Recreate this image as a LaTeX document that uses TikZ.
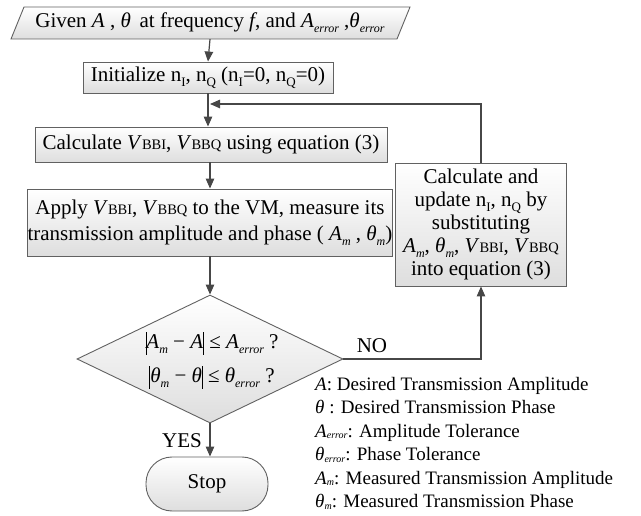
\documentclass[tikz,border=0pt]{standalone}
\usepackage{fontspec}
\setmainfont{Liberation Serif}
\usetikzlibrary{shapes.geometric,arrows.meta}

% small upright letters after an italic V (V_BBI, V_BBQ)
\newcommand{\vbb}[1]{\textit{V}{\fontsize{14.5}{14.5}\selectfont #1}}
% lowered upright subscript (n_I, n_Q)
\newcommand{\lowsub}[1]{\raisebox{-0.22em}{\fontsize{13}{13}\selectfont #1}}
% lowered italic subscript (A_m, A_error)
\newcommand{\itsub}[1]{\raisebox{-0.25em}{\fontsize{12}{12}\selectfont\itshape #1}}
% tiny italic subscript kept near the baseline (legend)
\newcommand{\legsub}[1]{\raisebox{-0.1em}{\fontsize{10}{10}\selectfont\itshape #1}}
% tall bar for absolute values
\newcommand{\absbar}{\vrule height 17pt depth 6pt width 0.9pt}

\tikzset{
  shadefill/.style={top color=white, bottom color=black!13, draw=black!62, line width=0.9pt},
  procbox/.style={shadefill, rectangle, inner sep=0pt, align=center,
                  font=\fontsize{21}{26}\selectfont},
  flow/.style={draw=black!72, line width=1.2pt, -{Triangle[length=10pt,width=8.5pt]}},
  lbl/.style={inner sep=0pt, font=\fontsize{21}{21}\selectfont},
  legline/.style={anchor=base west, inner sep=0pt, font=\fontsize{19}{19}\selectfont},
}

\begin{document}
\begin{tikzpicture}[x=1pt, y=-1pt]
  \useasboundingbox (0,0) rectangle (641,516);

  % input parallelogram
  \path[shadefill] (24,7) -- (410,7) -- (397,39) -- (11,39) -- cycle;
  \node[inner sep=0pt, minimum width=386, minimum height=32, font=\fontsize{21}{21}\selectfont]
    (given) at (210,23)
    {Given \textit{A} , \textit{θ}\, at frequency \textit{f}, and \textit{A}\itsub{error} ,\textit{θ}\itsub{error}};

  % process boxes
  \node[procbox, minimum width=250, minimum height=31] (init) at (208,77.5)
    {Initialize n\lowsub{I}, n\lowsub{Q} (n\lowsub{I}=0, n\lowsub{Q}=0)};
  \node[procbox, minimum width=352, minimum height=35] (calc) at (211,144.5)
    {Calculate \vbb{BBI}, \vbb{BBQ} using equation (3)};
  \node[procbox, minimum width=356, minimum height=67] (apply) at (210,222.5)
    {Apply \vbb{BBI}, \vbb{BBQ} to the VM, measure its\\
     transmission amplitude and phase ( \textit{A}\itsub{m} , \textit{θ}\itsub{m})};
  \node[procbox, minimum width=171, minimum height=123, font=\fontsize{21}{22.8}\selectfont]
    (upd) at (481,224.5)
    {Calculate and\\ update n\lowsub{I}, n\lowsub{Q} by\\ substituting\\
     \textit{A}\itsub{m}, \textit{θ}\itsub{m}, \vbb{BBI}, \vbb{BBQ}\\ into equation (3)};

  % decision
  \node[shadefill, diamond, inner sep=0pt, minimum width=266, minimum height=128] (dia) at (210,359) {};
  \node[align=center, inner sep=0pt, font=\fontsize{21}{34}\selectfont] (diatext) at (212,360)
    {\absbar\textit{A}\itsub{m} − \textit{A}\absbar\ ≤ \textit{A}\itsub{error} ?\\
     \absbar\textit{θ}\itsub{m} − \textit{θ}\absbar\ ≤ \textit{θ}\itsub{error} ?};

  % terminal
  \node[shadefill, rectangle, rounded corners=26pt, minimum width=122, minimum height=54,
        inner sep=0pt, font=\fontsize{21}{21}\selectfont] (stop) at (207,484) {Stop};

  % connectors
  \coordinate (join) at (210,104);
  \draw[flow] (given.south) -- (init.north);
  \draw[flow] (init.south) -- (calc.north -| init.south);
  \draw[flow] (calc.south -| apply.north) -- (apply.north);
  \draw[flow] (apply.south) -- (dia.north);
  \draw[flow] (dia.south) -- (stop.north -| dia.south);
  \draw[flow] (dia.east) -| (upd.south);
  \draw[flow] (upd.north) |- (join);

  \node[lbl] (no) at (372,346) {NO};
  \node[lbl] (yes) at (182,441) {YES};

  % legend
  \node[legline] (l1) at (315,390) {\textit{A}: Desired Transmission Amplitude};
  \node[legline] (l2) at (315,413.5) {\textit{θ} : Desired Transmission Phase};
  \node[legline] (l3) at (315,437) {\textit{A}\legsub{error}: Amplitude Tolerance};
  \node[legline] (l4) at (315,460.5) {\textit{θ}\legsub{error}: Phase Tolerance};
  \node[legline] (l5) at (315,484) {\textit{A}\legsub{m}: Measured Transmission Amplitude};
  \node[legline] (l6) at (315,507.5) {\textit{θ}\legsub{m}: Measured Transmission Phase};
\end{tikzpicture}
\end{document}
